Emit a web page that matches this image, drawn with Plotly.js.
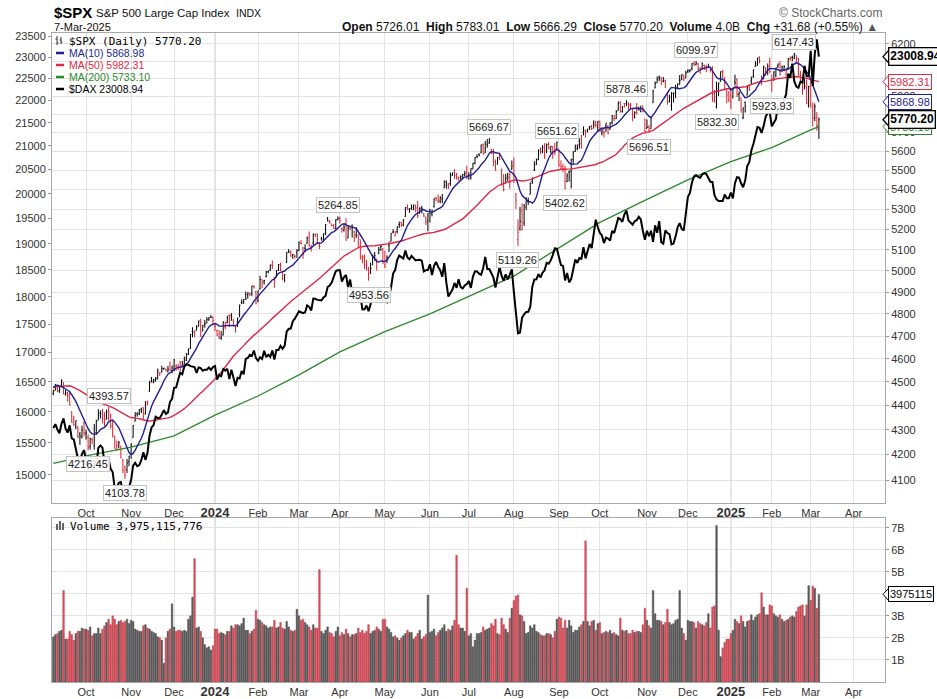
<!DOCTYPE html>
<html>
<head>
<meta charset="utf-8">
<script src="https://cdn.plot.ly/plotly-3.0.1.min.js"></script>
<style>
html,body{margin:0;padding:0;background:#ffffff;}
#chart{width:937px;height:699px;}
</style>
</head>
<body>
<div id="chart"></div>
<script>
// ---------------- DATA (one value per trading day, 8-Sep-2023 .. 7-Mar-2025) ----------------
// trading days per month (Sep-2023 counted from 8-Sep; Mar-2025 full month for the axis)
const monthDays = [16,22,21,20,21,20,20,22,22,19,22,22,20,23,20,21,20,19,21];
const monthTickText = ['Oct','Nov','Dec','2024','Feb','Mar','Apr','May','Jun','Jul','Aug','Sep','Oct','Nov','Dec','2025','Feb','Mar','Apr'];

// $SPX closes before the first visible day (29-Jun-2023 .. 7-Sep-2023), used for the moving averages
const preClose = [4396.44,4450.38,
4455.59,4446.82,4411.59,4398.95,4409.53,4439.26,4472.16,4510.04,4505.42,4522.79,4554.98,4565.72,4534.87,4536.34,4554.64,4567.46,4566.75,4537.41,4582.23,4588.96,
4576.73,4513.39,4501.89,4478.03,4518.44,4499.38,4467.71,4468.83,4464.05,4489.72,4437.86,4404.33,4370.36,4369.71,4399.77,4387.55,4436.01,4376.31,4405.71,4433.31,4497.63,4514.87,4507.66,
4515.77,4496.83,4465.48,4451.14];

const spxOpen = [
4451,4464,4473,4462,4487,4498,4446,4445,4447,4374,4341,4311,4313,4282,4270,4328,
4284,4270,4233,4260,4235,4289,4339,4367,4368,4360,4343,4346,4358,4321,4273,4235,4236,4233,4176,4152,4140,4172,
4202,4268,4335,4365,4366,4385,4391,4365,4406,4459,4505,4497,4509,4512,4538,4544,4555,4554,4545,4571,4549,
4559,4569,4565,4586,4568,4576,4593,4618,4646,4721,4715,4725,4744,4764,4724,4753,4758,4773,4786,4782,
4745,4725,4697,4690,4704,4741,4760,4792,4792,4772,4740,4760,4797,4853,4856,4888,4887,4889,4892,4925,4900,
4862,4916,4958,4951,4973,4995,5004,5027,4967,4976,5004,5031,4989,4963,5039,5094,5093,5074,5067,5086,
5098,5130,5110,5109,5132,5164,5111,5134,5174,5175,5123,5155,5140,5181,5254,5242,5220,5219,5204,5248,
5258,5204,5195,5229,5158,5211,5218,5188,5172,5171,5150,5065,5068,5032,5005,4988,5028,5084,5019,5085,5115,5104,
5030,5050,5122,5142,5187,5171,5189,5225,5234,5222,5264,5310,5303,5305,5298,5320,5341,5281,5315,5279,5259,5244,
5298,5278,5313,5357,5343,5341,5353,5409,5441,5424,5431,5477,5499,5480,5459,5461,5460,5473,5488,
5471,5461,5507,5537,5573,5584,5591,5635,5591,5638,5645,5611,5590,5543,5532,5566,5505,5428,5433,5477,5478,5505,
5537,5377,5151,5207,5293,5233,5311,5345,5376,5442,5501,5530,5557,5603,5597,5637,5602,5636,5602,5624,5607,5613,
5612,5506,5521,5507,5442,5490,5496,5557,5599,5615,5655,5642,5702,5709,5711,5727,5733,5756,5755,5727,
5757,5698,5699,5737,5737,5719,5752,5778,5775,5820,5866,5816,5859,5859,5857,5833,5834,5782,5826,5826,5816,5833,5775,
5723,5729,5722,5864,5947,5976,6008,6003,5986,5989,5912,5870,5849,5914,5922,5945,5992,5993,6015,6004,
6040,6042,6058,6089,6081,6084,6058,6058,6075,6069,6063,6053,6048,5913,5842,5941,5985,6033,6007,5921,5920,
5903,5891,5982,5993,5910,5890,5782,5866,5906,5965,5986,6014,6069,6076,6121,5969,6027,6058,6051,6096,
5970,5990,6020,6072,6083,6047,6049,6025,6060,6115,6121,6117,6134,6115,6027,5983,5971,5981,5856,
5968,5818,5782,5786,5726.01];

const spxHigh = [
4467,4491,4488,4479,4511,4498,4466,4457,4462,4376,4357,4338,4314,4292,4317,4334,
4300,4281,4268,4268,4324,4341,4385,4379,4386,4372,4383,4393.57,4367,4340,4276,4256,4255,4235,4183,4156,4183,4195,
4246,4319,4373,4372,4386,4391,4393,4418,4421,4504,4521,4512,4521,4557,4542,4569,4560,4557,4568,4588,4569,
4599,4575,4578,4590,4590,4609,4624,4644,4709,4739,4725,4749,4769,4778,4749,4772,4785,4785,4794,4789,
4755,4729,4727,4722,4765,4765,4791,4798,4803,4775,4748,4782,4842,4866,4868,4903,4899,4898,4929,4932,4907,
4907,4976,4958,4957,4999,5000,5030,5049,4970,5003,5032,5039,4993,4983,5089,5104,5097,5081,5077,5104,
5140,5149,5114,5128,5165,5190,5124,5180,5180,5180,5137,5164,5180,5226,5262,5247,5229,5227,5250,5264.85,
5264,5209,5229,5256,5222,5219,5225,5192,5211,5176,5150,5076,5078,5052,5019,5039,5077,5089,5058,5114,5124,5110,
5096,5074,5140,5181,5201,5191,5215,5239,5238,5251,5311,5325,5305,5325,5324,5323,5341,5311,5315,5282,5264,5281,
5302,5299,5355,5362,5376,5366,5376,5448,5447,5432,5488,5488,5506,5486,5467,5473,5480,5496,5524,
5490,5510,5539,5570,5583,5590,5636,5642,5655,5666,5669.67,5612,5614,5557,5570,5586,5509,5480,5480,5487,5487,5552,
5567,5383,5250,5312,5330,5327,5361,5360,5436,5464,5546,5562,5609,5620,5633,5643,5642,5650,5628,5628,5646,5651.62,
5612,5552,5534,5523,5485,5497,5561,5600,5636,5637,5670,5689,5734,5716,5721,5736,5742,5767,5765,5763,
5765,5720,5718,5753,5740,5757,5796,5796,5823,5871,5872,5846,5862,5878.46,5866,5863,5835,5817,5862,5843,5848,5850,5775,
5772,5741,5784,5937,5984,6012,6017,6008,6009,5994,5916,5909,5923,5921,5965,5973,6020,6025,6021,6045,
6053,6053,6087,6099,6099.97,6089,6065,6093,6080,6079,6085,6058,6071,5935,5982,5978,6041,6049,6007,5941,5929,
5935,5949,6022,6001,5927,5890,5837,5871,5961,5965,6012,6052,6100,6119,6128,6018,6073,6065,6087,6121,
6022,6042,6062,6085,6101,6074,6076,6063,6117,6127,6130,6147.43,6134,6119,6044,5992,6010,5994,5959,
5987,5866,5860,5812,5783.01];

const spxLow = [
4443,4464,4457,4453,4477,4447,4442,4417,4401,4329,4316,4303,4265,4239,4265,4274,
4260,4216.45,4220,4242,4220,4284,4339,4346,4326,4314,4343,4338,4306,4268,4224,4217,4225,4186,4127,4103.78,4127,4154,
4183,4268,4335,4354,4360,4369,4344,4363,4401,4459,4497,4494,4500,4511,4525,4540,4553,4545,4540,4547,4537,
4546,4548,4551,4547,4566,4574,4590,4616,4643,4694,4694,4725,4743,4697,4720,4737,4758,4768,4781,4752,
4722,4700,4687,4683,4703,4730,4757,4740,4768,4747,4715,4740,4785,4845,4845,4864,4870,4881,4881,4917,4845,
4852,4911,4918,4935,4969,4988,4999,5008,4920,4969,4999,4999,4955,4946,5037,5085,5068,5057,5058,5061,
5094,5127,5057,5091,5130,5114,5092,5122,5163,5132,5104,5145,5138,5172,5240,5229,5216,5203,5202,5245,
5229,5184,5189,5146,5157,5198,5160,5138,5158,5114,5053,5035,5008,5001,4953.56,4986,5028,5048,5001,5079,5095,5035,
5013,5036,5089,5141,5181,5165,5180,5207,5212,5215,5263,5296,5283,5298,5297,5286,5257,5278,5280,5262,5222,5191,
5234,5265,5309,5341,5331,5331,5331,5409,5404,5403,5420,5471,5455,5452,5446,5452,5453,5470,5455,
5451,5452,5507,5531,5563,5574,5591,5583,5591,5619,5640,5586,5522,5497,5530,5554,5420,5391,5433,5444,5404,5504,
5434,5302,5119.26,5194,5195,5217,5297,5322,5376,5429,5496,5528,5553,5585,5591,5560,5590,5610,5590,5560,5581,5604,
5518,5503,5489,5402.62,5438,5441,5406,5535,5597,5605,5614,5615,5685,5674,5701,5715,5714,5722,5729,5703,
5703,5685,5674,5704,5691,5716,5745,5763,5774,5820,5809,5809,5838,5846,5825,5825,5762,5777,5799,5822,5811,5812,5703,
5723,5696.51,5721,5864,5945,5976,5986,5963,5978,5946,5853,5866,5820,5865,5889,5940,5963,5992,5985,6004,
6032,6035,6046,6073,6076,6048,6028,6056,6050,6036,6059,6035,5870,5866,5832.30,5902,5982,6000,5932,5861,5867,
5829,5889,5960,5896,5874,5809,5773,5810,5906,5930,5969,6003,6068,6074,6088,5962,5995,6015,6019,6030,
5923.93,5990,6007,6060,6016,6037,6042,6003,6051,6102,6099,6112,6088,6009,5977,5909,5939,5858,5837,
5837,5733,5763,5711,5666.29];

const spxClose = [
4457.49,4487.46,4461.90,4467.44,4505.10,4450.32,4453.53,4443.95,4402.20,4330.00,4320.06,4337.44,4273.53,4274.51,4299.70,4288.05,
4288.39,4229.45,4263.75,4258.19,4308.50,4335.66,4358.24,4376.95,4349.61,4327.78,4373.63,4373.20,4314.60,4278.00,4224.16,4217.04,4247.68,4186.77,4137.23,4117.37,4166.82,4193.80,
4237.86,4317.78,4358.34,4365.98,4378.38,4382.78,4347.35,4415.24,4411.55,4495.70,4502.88,4508.24,4514.02,4547.38,4538.19,4556.62,4559.34,4550.43,4554.89,4550.58,4567.80,
4594.63,4569.78,4567.18,4549.34,4585.59,4604.37,4622.44,4643.70,4707.09,4719.55,4719.19,4740.56,4768.37,4698.35,4746.75,4754.63,4774.75,4781.58,4783.35,4769.83,
4742.83,4704.81,4688.68,4697.24,4763.54,4756.50,4783.45,4780.24,4783.83,4765.98,4739.21,4780.94,4839.81,4850.43,4864.60,4868.55,4894.16,4890.97,4927.93,4924.97,4845.65,
4906.19,4958.61,4942.81,4954.23,4995.06,4997.91,5026.61,5021.84,4953.17,5000.62,5029.73,5005.57,4975.51,4981.80,5087.03,5088.80,5069.53,5078.18,5069.76,5096.27,
5137.08,5130.95,5078.65,5104.76,5157.36,5123.69,5117.94,5175.27,5165.31,5150.48,5117.09,5149.42,5178.51,5224.62,5241.53,5234.18,5218.19,5203.58,5248.49,5254.35,
5243.77,5205.81,5211.49,5147.21,5204.34,5202.39,5209.91,5160.64,5199.06,5123.41,5061.82,5051.41,5022.21,5011.12,4967.23,5010.60,5070.55,5071.63,5048.42,5099.96,5116.17,5035.69,
5018.39,5064.20,5127.79,5180.74,5187.70,5187.67,5214.08,5222.68,5221.42,5246.68,5308.15,5297.10,5303.27,5308.13,5321.41,5307.01,5267.84,5304.72,5306.04,5266.95,5235.48,5277.51,
5283.40,5291.34,5354.03,5352.96,5346.99,5360.79,5375.32,5421.03,5433.74,5431.60,5473.23,5487.03,5473.17,5464.62,5447.87,5469.30,5477.90,5482.87,5460.48,
5475.09,5509.01,5537.02,5567.19,5572.85,5576.98,5633.91,5584.54,5615.35,5631.22,5667.20,5588.27,5544.59,5505.00,5564.41,5555.74,5427.13,5399.22,5459.10,5463.54,5436.44,5522.30,
5446.68,5346.56,5186.33,5240.03,5199.50,5319.31,5344.16,5344.39,5434.43,5455.21,5543.22,5554.25,5608.25,5597.12,5620.85,5570.64,5634.61,5616.84,5625.80,5592.18,5591.96,5648.40,
5528.93,5520.07,5503.41,5408.42,5471.05,5495.52,5554.13,5595.76,5626.02,5633.09,5634.58,5618.26,5713.64,5702.55,5718.57,5732.93,5722.26,5745.37,5738.17,5762.48,
5708.75,5709.54,5699.94,5751.07,5695.94,5751.13,5792.04,5780.05,5815.03,5859.85,5815.26,5842.47,5841.47,5864.67,5853.98,5851.20,5797.42,5809.86,5808.12,5823.52,5832.92,5813.67,5705.45,
5728.80,5712.69,5782.76,5929.04,5973.10,5995.54,6001.35,5983.99,5985.38,5949.17,5870.62,5893.62,5916.98,5917.11,5948.71,5969.34,5987.37,6021.63,5998.74,6032.38,
6047.15,6049.88,6086.49,6075.11,6090.27,6052.85,6034.91,6084.19,6051.25,6051.09,6074.08,6050.61,5872.16,5867.08,5930.85,5974.07,6040.04,6037.59,5970.84,5906.94,5881.63,
5868.55,5942.47,5975.38,5909.03,5918.25,5827.04,5836.22,5842.91,5949.91,5937.34,5996.66,6049.24,6086.37,6118.71,6101.24,6012.28,6067.70,6039.31,6071.17,6040.53,
5994.57,6037.88,6061.48,6083.57,6025.99,6066.44,6068.50,6051.97,6115.07,6114.63,6129.58,6144.15,6117.52,6013.13,5983.25,5955.25,5956.06,5861.57,5954.50,
5849.72,5778.15,5842.63,5738.52,5770.20];

// $DAX closes on the same days (left scale)
const daxClose = [
15740,15800,15715,15654,15805,15894,15727,15664,15782,15572,15557,15406,15255,15218,15323,15387,
15247,15085,15099,15070,15230,15128,15423,15460,15425,15187,15238,15251,15095,15045,14798,14800,14880,14892,14731,14687,14716,14810,
14923,15143,15189,15136,15153,15229,15353,15234,15345,15615,15748,15786,15919,15901,15900,15957,16030,15967,15992,16166,16215,
16398,16405,16533,16656,16629,16759,16794,16792,16766,16752,16751,16650,16744,16733,16687,16706,16706,16742,16701,16752,
16769,16538,16617,16594,16716,16689,16720,16547,16704,16572,16431,16567,16555,16683,16627,16890,16907,16961,16942,17037,16904,
16859,16918,16890,17033,16922,16963,16927,17037,16880,17047,17046,17117,17068,17118,17370,17419,17424,17556,17601,17678,
17735,17716,17698,17716,17842,17815,17746,17965,17961,17942,17936,17933,17987,18015,18179,18206,18261,18384,18477,18492,
18492,18283,18367,18403,18175,18318,18077,18097,17954,17930,18027,17766,17770,17837,17737,17860,18137,18089,17917,18161,18118,17932,
17932,17897,18001,18175,18430,18498,18686,18773,18742,18716,18869,18738,18704,18768,18726,18680,18691,18693,18677,18473,18496,18498,
18608,18405,18576,18652,18557,18494,18370,18630,18265,18002,18068,18131,18254,18164,18325,18177,18155,18210,18235,
18290,18164,18374,18475,18472,18430,18407,18534,18748,18517,18518,18437,18354,18171,18407,18558,18387,18299,18418,18321,18411,18509,
18083,17661,17339,17354,17615,17680,17722,17726,17812,18183,18320,18322,18421,18357,18448,18493,18633,18617,18681,18782,18912,18906,
18747,18592,18576,18302,18444,18266,18330,18518,18699,18633,18726,18711,18935,18720,18847,18997,18919,19238,19474,19325,
19213,19165,19015,19121,19104,19066,19254,19211,19374,19508,19486,19432,19583,19657,19461,19421,19378,19443,19464,19532,19479,19257,19078,
19255,19148,19256,19039,19363,19215,19448,19034,19003,19264,19211,19190,18988,19005,19146,19323,19406,19295,19262,19626,
19934,20017,20233,20358,20385,20346,20330,20399,20426,20406,20314,20246,20243,19970,19885,19849,19849,19849,19984,19909,19909,
20025,19906,20216,20340,20330,20215,20133,20271,20575,20655,20903,21042,21254,21411,21395,21282,21431,21637,21727,21732,
21428,21505,21586,21902,21787,21868,22037,22148,22613,22514,22845,22434,22314,22287,22426,22410,22795,22551,22551,
23147,22327,23081,23419,23008.94];

// daily volume, billions of shares
const volumeB = [
2.05,2.15,2.2,2.3,2.35,4.15,1.95,1.95,2.3,2.15,1.9,2.2,2.3,2.3,2.45,2.4,
2.4,2.35,2.5,2.1,2.2,2.2,2.45,2.2,2.4,2.55,2.7,2.85,2.6,3.0,2.85,2.6,2.75,2.8,2.7,2.75,2.85,2.65,
2.8,2.75,2.4,2.35,2.3,2.3,2.55,2.6,2.45,2.4,2.3,2.25,2.2,2.05,2.0,1.9,0.85,2.0,2.3,2.4,3.55,
2.5,2.3,2.35,2.35,2.3,2.35,2.3,2.85,3.0,3.85,5.6,2.45,2.5,2.3,2.0,1.7,1.55,1.6,1.45,1.65,
2.4,2.4,2.2,2.25,2.2,2.15,2.3,2.3,2.55,2.45,2.6,2.6,2.55,2.65,2.9,2.35,2.35,2.2,2.3,2.4,3.25,
2.85,2.8,2.7,2.6,2.55,2.45,2.5,2.5,2.8,2.45,2.5,2.7,2.45,2.4,2.75,2.5,2.35,2.3,2.35,3.3,
3.0,2.8,2.85,2.7,2.6,2.5,2.35,2.6,2.45,2.45,5.1,2.3,2.2,2.35,2.5,2.25,2.2,2.05,2.3,2.5,
2.1,2.25,2.15,2.4,2.2,2.05,2.15,2.15,2.2,2.45,2.25,2.35,2.2,2.3,2.6,2.2,2.3,2.35,2.5,2.4,2.3,2.85,
2.85,2.5,2.4,2.25,2.05,2.1,2.0,1.9,2.0,2.1,2.2,2.35,2.25,2.25,1.95,2.05,2.2,2.35,1.95,2.05,2.15,3.95,
2.25,2.3,2.4,2.1,2.25,2.35,2.45,2.6,2.3,2.4,2.35,2.55,2.8,5.75,2.6,2.45,2.45,2.3,4.25,
2.1,2.2,1.6,1.9,2.2,2.2,2.25,2.5,2.35,2.4,2.45,2.65,2.55,2.85,2.2,2.15,2.9,2.6,2.4,2.25,2.9,3.35,
3.7,3.9,3.95,3.05,3.0,2.75,2.2,2.25,2.55,2.45,2.6,2.3,2.25,2.15,2.1,2.1,2.2,2.2,2.15,2.0,2.3,2.85,
2.95,2.9,2.45,2.8,2.45,2.8,2.55,2.25,2.35,2.35,2.5,2.6,2.75,6.4,2.75,2.55,2.75,2.8,2.35,2.65,
2.7,2.2,2.25,2.3,2.25,2.35,2.2,2.25,2.15,2.1,2.9,2.35,2.3,2.35,2.2,2.2,2.35,2.25,2.3,2.3,2.25,2.6,3.35,
2.8,2.55,2.45,4.15,3.1,2.8,2.8,2.75,2.6,2.7,3.3,2.7,2.6,2.65,2.8,2.85,4.15,2.45,2.2,1.9,
2.8,2.75,2.75,2.7,2.45,2.75,2.65,2.6,2.55,2.7,3.1,2.45,3.4,3.45,7.1,2.35,1.15,1.55,1.8,1.95,1.95,
2.2,2.35,2.85,2.75,2.65,3.0,2.75,2.5,2.75,2.8,3.05,2.8,2.95,3.05,3.1,4.05,3.4,3.05,3.05,3.5,
3.45,3.1,3.0,2.95,3.05,2.85,2.75,2.8,2.85,2.95,3.0,2.95,3.2,3.4,3.45,3.5,3.0,3.5,4.37,
3.7,4.35,4.25,3.35,3.975115776];

// 200-day MA at the first trading day of each month (+ last day)
const ma200MonthStart = [4165,4195,4230,4275,4360,4440,4530,4630,4720,4800,4880,4975,5110,5235,5350,5450,5545,5620,5715];
const ma200Last = 5733.10;

// labelled swing highs/lows: trading-day number, value, high?
const swingDay  = [27, 17, 35, 139, 154, 213, 227, 246, 250, 280, 291, 314, 324, 351, 362];
const swingVal  = [4393.57, 4216.45, 4103.78, 5264.85, 4953.56, 5669.67, 5119.26, 5651.62, 5402.62, 5878.46, 5696.51, 6099.97, 5832.30, 5923.93, 6147.43];
const swingHigh = [true, false, false, true, false, true, false, true, false, true, false, true, false, false, true];

// axis tick values
const spxTicks = [4100,4200,4300,4400,4500,4600,4700,4800,4900,5000,5100,5200,5300,5400,5500,5600,5700,5800,5900,6000,6100,6200];
const daxTicks = [15000,15500,16000,16500,17000,17500,18000,18500,19000,19500,20000,20500,21000,21500,22000,22500,23000,23500];
const volTicks = [1,2,3,4,5,6,7];

// header / legend texts
const legendSpx = '$SPX (Daily) 5770.20';
const legendMA10 = 'MA(10) 5868.98';
const legendMA50 = 'MA(50) 5982.31';
const legendMA200 = 'MA(200) 5733.10';
const legendDax = '$DAX 23008.94';
const legendVol = 'Volume 3,975,115,776';
const volTagText = '3975115';

// ---------------- GEOMETRY / STYLE ----------------
const W = 937, H = 699;
const PX_L = 52, PX_R = 885, MAIN_T = 33, MAIN_B = 503, VOL_T = 518, VOL_B = 682;
const SPX_RANGE = [3.60331, 3.79692];
const DAX_RANGE = [4.16365, 4.37240];
const VOL_MAX = 7.44;
const X_RANGE = [-0.64, 406.3];
const fx = p => p / W;
const fy = p => 1 - p / H;
const C_UP = '#000000', C_DN = '#e0202e', C_MA10 = '#1f1f96', C_MA50 = '#dd2a48', C_MA200 = '#2b8a2b';
const GRID = '#e3e3e3', BORDER = '#a9a9a9';
const FONT = 'Liberation Sans, Arial, sans-serif';
const MONO = 'DejaVu Sans Mono, monospace';

// ---------------- DERIVED ----------------
const N = spxClose.length;
const idx = spxClose.map((_, i) => i);
const allClose = preClose.concat(spxClose);
function sma(n) {
  return spxClose.map((_, i) => {
    const j = i + preClose.length; let s = 0;
    for (let k = j - n + 1; k <= j; k++) s += allClose[k];
    return s / n;
  });
}
const ma10 = sma(10), ma50 = sma(50);
const tickIdx = []; { let acc = 0; for (let k = 0; k < monthDays.length; k++) { acc += monthDays[k]; tickIdx.push(acc); } }
const ma200X = [0].concat(tickIdx.slice(0, ma200MonthStart.length - 1)).concat([N - 1]);
const ma200Y = ma200MonthStart.concat([ma200Last]);
const tickTextFmt = monthTickText.map(t => /^\d{4}$/.test(t) ? '<span style="font-size:13px;"><b>' + t + '</b></span>' : t);

const isUp = spxClose.map((c, i) => c >= (i === 0 ? preClose[preClose.length - 1] : spxClose[i - 1]));
function pick(arr, up) { return arr.filter((_, i) => isUp[i] === up); }

const spxPx = v => MAIN_T + (SPX_RANGE[1] - Math.log10(v)) / (SPX_RANGE[1] - SPX_RANGE[0]) * (MAIN_B - MAIN_T);
const daxPx = v => MAIN_T + (DAX_RANGE[1] - Math.log10(v)) / (DAX_RANGE[1] - DAX_RANGE[0]) * (MAIN_B - MAIN_T);
const volPx = v => VOL_B - v / VOL_MAX * (VOL_B - VOL_T);

// ---------------- TRACES ----------------
function ohlcTrace(up) {
  const col = up ? C_UP : C_DN;
  return {
    type: 'ohlc', xaxis: 'x', yaxis: 'y',
    x: pick(idx, up), open: pick(spxOpen, up), high: pick(spxHigh, up), low: pick(spxLow, up), close: pick(spxClose, up),
    increasing: { line: { color: col, width: 1 } }, decreasing: { line: { color: col, width: 1 } },
    tickwidth: 0.4, hoverinfo: 'skip', showlegend: false
  };
}
const traces = [
  ohlcTrace(true), ohlcTrace(false),
  { type: 'scatter', mode: 'lines', x: ma200X, y: ma200Y, xaxis: 'x', yaxis: 'y', line: { color: C_MA200, width: 1.3 }, hoverinfo: 'skip' },
  { type: 'scatter', mode: 'lines', x: idx, y: ma50, xaxis: 'x', yaxis: 'y', line: { color: C_MA50, width: 1.4 }, hoverinfo: 'skip' },
  { type: 'scatter', mode: 'lines', x: idx, y: ma10, xaxis: 'x', yaxis: 'y', line: { color: C_MA10, width: 1.4 }, hoverinfo: 'skip' },
  { type: 'scatter', mode: 'lines', x: idx, y: daxClose, xaxis: 'x', yaxis: 'y2', line: { color: '#000', width: 2 }, hoverinfo: 'skip' },
  { type: 'bar', x: idx, y: volumeB, xaxis: 'x2', yaxis: 'y3', width: 0.8,
    marker: { color: isUp.map(u => u ? '#5f5f5f' : '#d9505c'), line: { color: isUp.map(u => u ? '#3c3c3c' : '#b8303c'), width: 0.4 } },
    hoverinfo: 'skip' }
];

// ---------------- ANNOTATIONS & SHAPES ----------------
const ann = [];
const shapes = [];
function txt(x, y, text, opt) {
  ann.push(Object.assign({ xref: 'paper', yref: 'paper', x: fx(x), y: fy(y), text: text, showarrow: false,
    xanchor: 'left', yanchor: 'middle', font: { family: FONT, size: 11, color: '#000' } }, opt || {}));
}
// header
txt(52, 13, '<b>$SPX</b>', { font: { family: FONT, size: 15, color: '#000' } });
txt(94, 13, 'S&P 500 Large Cap Index', { font: { family: FONT, size: 11.5, color: '#111' } });
txt(234, 13, 'INDX', { font: { family: FONT, size: 10.5, color: '#111' } });
txt(52, 27, '7-Mar-2025', { font: { family: FONT, size: 11, color: '#111' } });
txt(885, 13, '© StockCharts.com', { xanchor: 'right', font: { family: FONT, size: 12, color: '#666' } });
txt(880, 27, '<b>Open</b> 5726.01  <b>High</b> 5783.01  <b>Low</b> 5666.29  <b>Close</b> 5770.20  <b>Volume</b> 4.0B  <b>Chg</b> +31.68 (+0.55%) <span style="color:#555">▲</span>',
  { xanchor: 'right', font: { family: FONT, size: 12, color: '#111' } });

// legend (main panel)
txt(67, 41, legendSpx, { font: { family: MONO, size: 11, color: '#000' } });
const legendRows = [[legendMA10, C_MA10, 53], [legendMA50, C_MA50, 65], [legendMA200, C_MA200, 77], [legendDax, '#000', 89]];
legendRows.forEach(r => {
  txt(67, r[2], r[0], { font: { family: FONT, size: 10.5, color: r[1] } });
  shapes.push({ type: 'line', xref: 'paper', yref: 'paper', x0: fx(56), x1: fx(64), y0: fy(r[2]), y1: fy(r[2]), line: { color: r[1], width: 2.5 } });
});
// tiny OHLC icon
[[57, 36, 45], [61, 37, 44]].forEach(b => {
  shapes.push({ type: 'line', xref: 'paper', yref: 'paper', x0: fx(b[0]), x1: fx(b[0]), y0: fy(b[1]), y1: fy(b[2]), line: { color: '#333', width: 1 } });
  shapes.push({ type: 'line', xref: 'paper', yref: 'paper', x0: fx(b[0] - 1.5), x1: fx(b[0]), y0: fy(b[1] + 3), y1: fy(b[1] + 3), line: { color: '#333', width: 1 } });
  shapes.push({ type: 'line', xref: 'paper', yref: 'paper', x0: fx(b[0]), x1: fx(b[0] + 1.5), y0: fy(b[2] - 2), y1: fy(b[2] - 2), line: { color: '#333', width: 1 } });
});
// volume legend
txt(68, 526, legendVol, { font: { family: MONO, size: 11, color: '#000' } });
[[56, 524], [59, 521], [62, 523]].forEach(b => {
  shapes.push({ type: 'rect', xref: 'paper', yref: 'paper', x0: fx(b[0]), x1: fx(b[0] + 2), y0: fy(530), y1: fy(b[1]), fillcolor: '#666', line: { width: 0 } });
});

// swing labels
swingDay.forEach((d, k) => {
  ann.push({ xref: 'x', yref: 'y', x: d, y: Math.log10(swingVal[k]), text: swingVal[k].toFixed(2), showarrow: false,
    xanchor: 'center', yanchor: swingHigh[k] ? 'bottom' : 'top', yshift: swingHigh[k] ? 3 : -6,
    font: { family: FONT, size: 11, color: '#222' }, bgcolor: 'rgba(255,255,255,0.92)', bordercolor: '#c4c4c4', borderwidth: 1, borderpad: 1 });
});

// right-side value tags
function tag(py, text, color, bold) {
  shapes.push({ type: 'path', xref: 'paper', yref: 'paper',
    path: 'M ' + fx(883) + ' ' + fy(py) + ' L ' + fx(889) + ' ' + fy(py - 6.5) + ' L ' + fx(889) + ' ' + fy(py + 6.5) + ' Z',
    fillcolor: '#fff', line: { color: color, width: bold ? 1.3 : 1 }, layer: 'above' });
  ann.push({ xref: 'paper', yref: 'paper', x: fx(888), y: fy(py), xanchor: 'left', yanchor: 'middle', showarrow: false,
    text: bold ? '<b>' + text + '</b>' : text, bgcolor: '#fff', bordercolor: color, borderwidth: bold ? 1.3 : 1, borderpad: 1,
    font: { family: FONT, size: bold ? 12 : 11, color: color } });
}
tag(spxPx(ma200Last), ma200Last.toFixed(2), C_MA200, false);
tag(daxPx(daxClose[N - 1]), daxClose[N - 1].toFixed(2), '#000', true);
tag(spxPx(ma50[N - 1]), legendMA50.split(' ')[1], C_MA50, false);
tag(spxPx(ma10[N - 1]), legendMA10.split(' ')[1], C_MA10, false);
tag(spxPx(spxClose[N - 1]), spxClose[N - 1].toFixed(2), '#000', true);
tag(volPx(volumeB[N - 1]), volTagText, '#000', false);

// darker year gridlines
[tickIdx[3], tickIdx[15]].forEach(xv => {
  shapes.push({ type: 'line', xref: 'x', yref: 'paper', x0: xv, x1: xv, y0: fy(MAIN_B), y1: fy(MAIN_T), line: { color: '#c6c6c6', width: 1 }, layer: 'below' });
  shapes.push({ type: 'line', xref: 'x', yref: 'paper', x0: xv, x1: xv, y0: fy(VOL_B), y1: fy(VOL_T), line: { color: '#c6c6c6', width: 1 }, layer: 'below' });
});

// ---------------- LAYOUT ----------------
const xCommon = {
  range: X_RANGE, tickmode: 'array', tickvals: tickIdx, ticktext: tickTextFmt,
  showgrid: true, gridcolor: GRID, gridwidth: 1, zeroline: false,
  showline: true, linecolor: BORDER, linewidth: 1, mirror: true, ticks: '',
  tickfont: { family: FONT, size: 11, color: '#333' }, fixedrange: true
};
const layout = {
  width: W, height: H, margin: { l: 0, r: 0, t: 0, b: 0, pad: 0 },
  paper_bgcolor: '#fff', plot_bgcolor: '#fff', showlegend: false, hovermode: false,
  font: { family: FONT, size: 11, color: '#333' },
  xaxis: Object.assign({}, xCommon, { domain: [fx(PX_L), fx(PX_R)], anchor: 'y', rangeslider: { visible: false } }),
  xaxis2: Object.assign({}, xCommon, { domain: [fx(PX_L), fx(PX_R)], anchor: 'y3', matches: 'x' }),
  yaxis: {
    domain: [fy(MAIN_B), fy(MAIN_T)], anchor: 'x', type: 'log', range: SPX_RANGE, side: 'right',
    tickmode: 'array', tickvals: spxTicks, ticktext: spxTicks.map(String),
    showgrid: true, gridcolor: GRID, zeroline: false, showline: true, linecolor: BORDER, mirror: true,
    ticks: 'outside', ticklen: 3, tickcolor: '#999', tickfont: { family: FONT, size: 11, color: '#333' }, fixedrange: true
  },
  yaxis2: {
    overlaying: 'y', anchor: 'x', type: 'log', range: DAX_RANGE, side: 'left',
    tickmode: 'array', tickvals: daxTicks, ticktext: daxTicks.map(String),
    showgrid: false, zeroline: false, showline: false,
    ticks: 'outside', ticklen: 3, tickcolor: '#999', tickfont: { family: FONT, size: 11, color: '#333' }, fixedrange: true
  },
  yaxis3: {
    domain: [fy(VOL_B), fy(VOL_T)], anchor: 'x2', range: [0, VOL_MAX], side: 'right',
    tickmode: 'array', tickvals: volTicks, ticktext: volTicks.map(v => v + 'B'),
    showgrid: true, gridcolor: GRID, zeroline: false, showline: true, linecolor: BORDER, mirror: true,
    ticks: 'outside', ticklen: 3, tickcolor: '#999', tickfont: { family: FONT, size: 11, color: '#333' }, fixedrange: true
  },
  bargap: 0.2,
  annotations: ann,
  shapes: shapes
};

Plotly.newPlot('chart', traces, layout, { staticPlot: true, displayModeBar: false });
</script>
</body>
</html>
